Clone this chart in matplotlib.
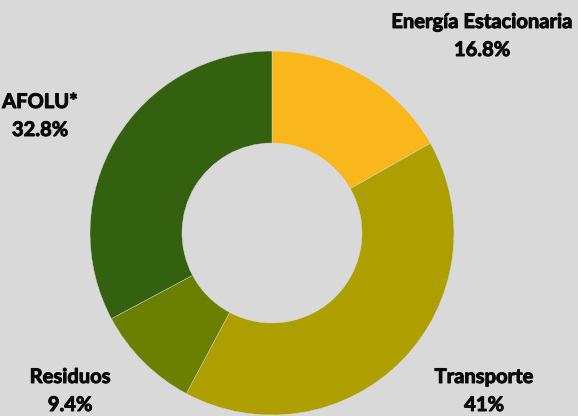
import matplotlib.pyplot as plt
import matplotlib.patheffects as pe

categories = ["Energía Estacionaria", "Transporte", "Residuos", "AFOLU*"]
shares = [16.8, 41.0, 9.4, 32.8]
pct_labels = ["16.8%", "41%", "9.4%", "32.8%"]
colors = ["#f9b71b", "#ae9f00", "#6b7f00", "#336110"]

BG = "#d9d9d9"
W, H = 578, 416

fig = plt.figure(figsize=(W / 100, H / 100), dpi=100, facecolor=BG)
ax = fig.add_axes([0, 0, 1, 1])
ax.set_facecolor(BG)

# pie in pixel coordinates
cx, cy, r = 272, 183, 182
ax.pie(shares, colors=colors, startangle=90, counterclock=False,
       center=(cx, cy), radius=r, frame=True,
       wedgeprops=dict(width=r - 90, edgecolor=BG, linewidth=0.3))
ax.set_xlim(0, W)
ax.set_ylim(0, H)
ax.set_aspect("equal")
ax.axis("off")

# label positions (x, y of name line), pixels from bottom-left
label_pos = [(482, 394), (484, 39), (70, 39), (40, 314)]
font = dict(family=["Lato", "DejaVu Sans"], fontweight="bold",
            fontsize=14.5, color="#0a0a0a", ha="center", va="center",
            path_effects=[pe.withStroke(linewidth=0.7, foreground="#0a0a0a")])
for (x, y), name, pct in zip(label_pos, categories, pct_labels):
    ax.text(x, y, name, **font)
    ax.text(x, y - 28, pct, **font)

fig.savefig("out.png", dpi=100, facecolor=BG)
